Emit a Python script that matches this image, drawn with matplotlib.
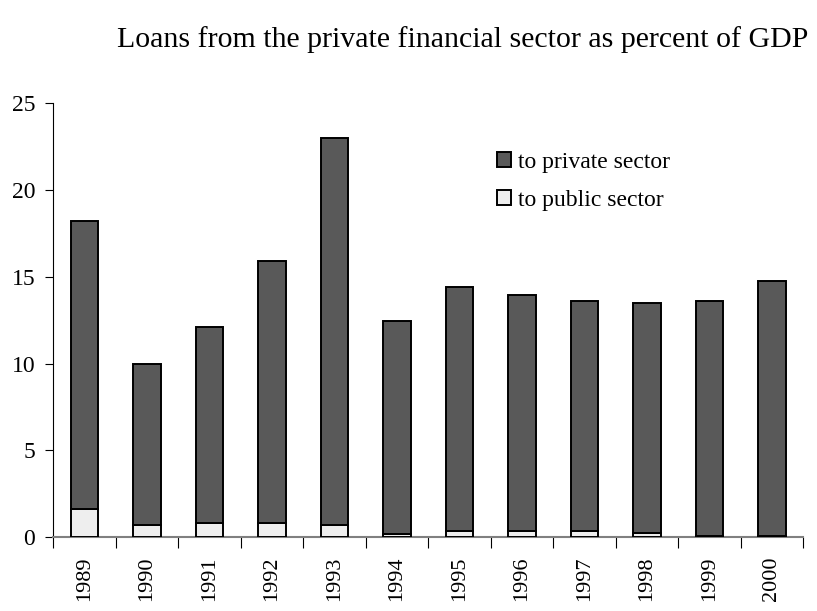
import numpy as np
import matplotlib.pyplot as plt
from matplotlib.ticker import FixedLocator

# Kredyty sektora finansowego (% PKB)
years = ["1989", "1990", "1991", "1992", "1993", "1994",
         "1995", "1996", "1997", "1998", "1999", "2000"]
public = [1.6, 0.7, 0.8, 0.8, 0.7, 0.2, 0.35, 0.35, 0.35, 0.25, 0.08, 0.08]
total = [18.2, 10.0, 12.1, 15.9, 23.0, 12.45, 14.4, 13.95, 13.6, 13.5, 13.6, 14.75]
private = [t - p for t, p in zip(total, public)]

plt.rcParams['font.family'] = ['Liberation Serif', 'DejaVu Serif']

fig = plt.figure(figsize=(8.17, 6.11), dpi=100)
ax = fig.add_axes([0.065, 0.121, 0.918, 0.710])

x = np.arange(len(years))
ax.bar(x, public, width=0.44, color="#eeeeee", edgecolor="black", linewidth=1.4,
       label="to public sector", zorder=3)
ax.bar(x, private, bottom=public, width=0.44, color="#595959", edgecolor="black",
       linewidth=1.4, label="to private sector", zorder=3)

ax.set_xlim(-0.5, len(years) - 0.5)
ax.set_ylim(0, 25)
ax.set_yticks([0, 5, 10, 15, 20, 25])
ax.tick_params(axis='y', labelsize=17, length=6, width=0.8, direction='out', pad=7)

# etykiety lat pionowo, kreski miedzy kategoriami
ax.set_xticks(x)
ax.set_xticklabels(years, rotation=90, fontsize=16)
ax.tick_params(axis='x', which='major', length=0, pad=14)
ax.xaxis.set_minor_locator(FixedLocator(np.arange(-0.5, len(years), 1)))
ax.tick_params(axis='x', which='minor', length=8, width=0.8, direction='out')

for s in ['top', 'right']:
    ax.spines[s].set_visible(False)
ax.spines['left'].set_linewidth(0.8)
ax.spines['bottom'].set_color("#808080")
ax.spines['bottom'].set_linewidth(1.5)

handles, labels = ax.get_legend_handles_labels()
ax.legend(handles[::-1], labels[::-1], loc='upper left', bbox_to_anchor=(0.608, 0.752),
          bbox_transform=fig.transFigure, frameon=False, fontsize=17,
          borderpad=0, borderaxespad=0,
          handlelength=0.6, handleheight=0.6, handletextpad=0.3, labelspacing=0.75)

fig.text(0.566, 0.935, "Loans from the private financial sector as percent of GDP",
         ha='center', va='center', fontsize=21.5)

plt.savefig("out.png", dpi=100)
